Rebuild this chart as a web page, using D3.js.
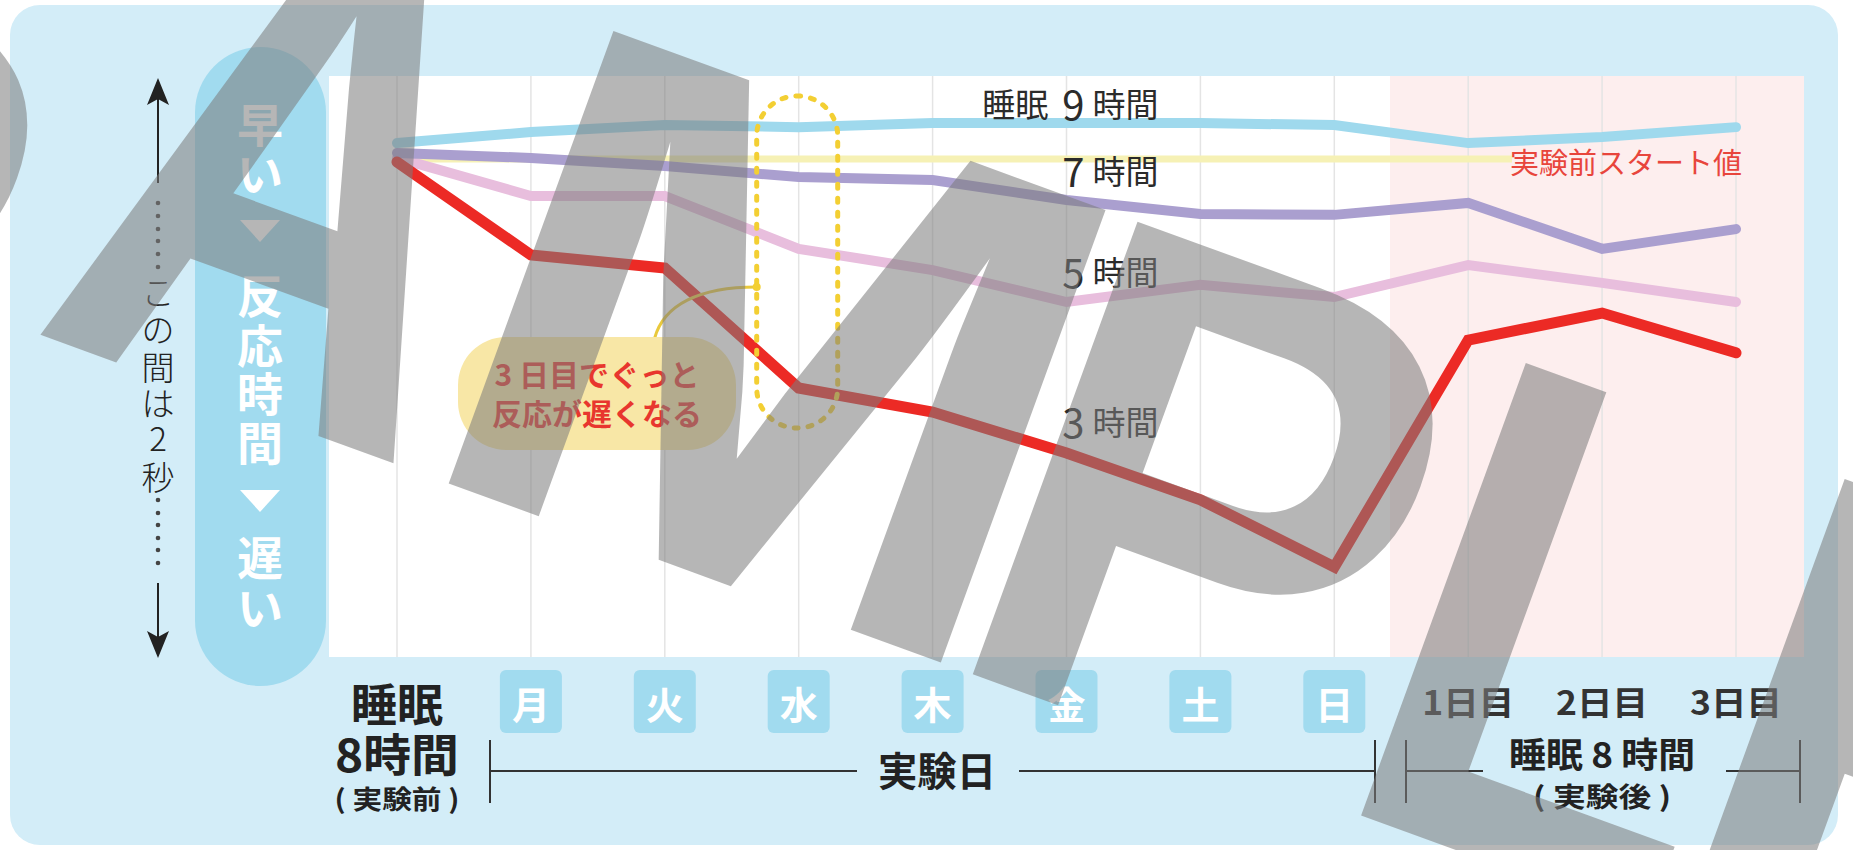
<!DOCTYPE html>
<html lang="ja">
<head>
<meta charset="utf-8">
<title>睡眠時間と反応時間</title>
<script src="https://cdn.jsdelivr.net/npm/d3@7"></script>
<style>
  html, body { margin: 0; padding: 0; background: #ffffff; }
  svg { display: block; }
  text { font-family: "Noto Sans CJK JP", "Noto Sans", sans-serif; }
</style>
</head>
<body>
<svg id="chart" width="1853" height="850"></svg>
<script>
// ---- data -------------------------------------------------------------
// reaction time, ms below the top of the scale (larger = slower)
const categories = ["実験前", "月", "火", "水", "木", "金", "土", "日", "1日目", "2日目", "3日目"];
const dayLabels = ["月", "火", "水", "木", "金", "土", "日"];
const afterLabels = ["1日目", "2日目", "3日目"];
const startValue = 286;
const sleep9 = [231, 193, 169, 176, 162, 162, 162, 169, 231, 210, 176];
const sleep7 = [265, 282, 310, 348, 358, 427, 475, 478, 437, 595, 527];
const sleep5 = [282, 413, 413, 595, 668, 778, 719, 761, 651, 712, 778];
const sleep3 = [296, 616, 661, 1074, 1157, 1298, 1459, 1690, 909, 816, 953];

// ---- layout -----------------------------------------------------------
const svg = d3.select("#chart");
const plot = { left: 329, right: 1804, top: 76, bottom: 657, afterStart: 1390 };

const x = d3.scalePoint().domain(categories).range([397, 1736]);
const y = d3.scaleLinear().domain([0, 2000]).range([plot.top, plot.bottom]);

const C = {
  panel: "#d3edf8",
  chip: "#a1dbef",
  cyan: "#9fd9ed",
  purple: "#aa9fcf",
  pink: "#e8bedd",
  red: "#ec2a25",
  base: "#f6f1b5",
  ink: "#2b2b2b"
};

// outer rounded panel
svg.append("rect")
  .attr("x", 10).attr("y", 5).attr("width", 1828).attr("height", 840)
  .attr("rx", 30).attr("fill", C.panel);

// plot area: experiment days (white) and recovery days (pink)
svg.append("rect")
  .attr("x", plot.left).attr("y", plot.top)
  .attr("width", plot.afterStart - plot.left).attr("height", plot.bottom - plot.top)
  .attr("fill", "#ffffff");
svg.append("rect")
  .attr("x", plot.afterStart).attr("y", plot.top)
  .attr("width", plot.right - plot.afterStart).attr("height", plot.bottom - plot.top)
  .attr("fill", "#fdeeee");

// vertical grid lines
svg.append("g").selectAll("line").data(categories).join("line")
  .attr("x1", d => x(d)).attr("x2", d => x(d))
  .attr("y1", plot.top).attr("y2", plot.bottom)
  .attr("stroke", "#e4e4e4").attr("stroke-width", 1.5);

// starting value reference line
const baseLabelRight = x("3日目") + 6;
svg.append("line")
  .attr("x1", x(categories[0])).attr("x2", 1512)
  .attr("y1", y(startValue)).attr("y2", y(startValue))
  .attr("stroke", C.base).attr("stroke-width", 7);

// series lines
const line = d3.line().x((d, i) => x(categories[i])).y(d => y(d));
const series = [
  { values: sleep5, color: C.pink, width: 10 },
  { values: sleep7, color: C.purple, width: 10 },
  { values: sleep9, color: C.cyan, width: 10 },
  { values: sleep3, color: C.red, width: 11 }
];
svg.append("g").selectAll("path").data(series).join("path")
  .attr("d", d => line(d.values))
  .attr("fill", "none")
  .attr("stroke", d => d.color)
  .attr("stroke-width", d => d.width)
  .attr("stroke-linecap", "round")
  .attr("stroke-linejoin", "miter");

// start value label
svg.append("text")
  .attr("x", baseLabelRight).attr("y", y(startValue) + 2)
  .attr("text-anchor", "end").attr("dominant-baseline", "central")
  .attr("font-size", 29).attr("fill", "#e8453c")
  .text("実験前スタート値");

// series labels
const labelX = x("金") + 92;
function seriesLabel(prefix, digit, yPos) {
  const t = svg.append("text")
    .attr("x", labelX).attr("y", yPos)
    .attr("text-anchor", "end").attr("dominant-baseline", "central")
    .attr("fill", C.ink).attr("font-size", 33);
  if (prefix) t.append("tspan").text(prefix);
  t.append("tspan").attr("dx", prefix ? 14 : 0).attr("font-size", 40).text(digit);
  t.append("tspan").attr("dx", 8).text("時間");
}
seriesLabel("睡眠", "9", 103);
seriesLabel("", "7", 170);
seriesLabel("", "5", 271);
seriesLabel("", "3", 421);

// highlight around Wednesday
const hx = x("水");
svg.append("rect")
  .attr("x", hx - 42).attr("y", 96).attr("width", 81).attr("height", 332)
  .attr("rx", 40)
  .attr("fill", "none").attr("stroke", "#f3cf33").attr("stroke-width", 5)
  .attr("stroke-dasharray", "4 10").attr("stroke-linecap", "round");
svg.append("path")
  .attr("d", `M${hx - 42},287 C${hx - 100},287 ${hx - 135},305 ${hx - 144},338`)
  .attr("fill", "none").attr("stroke", "#e9c93c").attr("stroke-width", 3);
svg.append("circle").attr("cx", hx - 42).attr("cy", 287).attr("r", 4).attr("fill", "#f3cf33");

// callout
svg.append("rect")
  .attr("x", 458).attr("y", 337).attr("width", 278).attr("height", 113)
  .attr("rx", 48).attr("fill", "#f8e7a6");
svg.append("text")
  .attr("x", 597).attr("y", 373).attr("text-anchor", "middle").attr("dominant-baseline", "central")
  .attr("font-size", 30).attr("font-weight", 700).attr("fill", "#e8362e")
  .text("3 日目でぐっと");
svg.append("text")
  .attr("x", 597).attr("y", 412).attr("text-anchor", "middle").attr("dominant-baseline", "central")
  .attr("font-size", 30).attr("font-weight", 700).attr("fill", "#e8362e")
  .text("反応が遅くなる");

// ---- y-direction guide -----------------------------------------------
svg.append("rect")
  .attr("x", 195).attr("y", 47).attr("width", 131).attr("height", 639)
  .attr("rx", 65.5).attr("fill", C.chip);

const pillX = 260;
const pillChars = [
  ["早", 122], ["い", 171], ["▼", 231], ["反", 293], ["応", 343],
  ["時", 391], ["間", 440], ["▼", 501], ["遅", 555], ["い", 605]
];
pillChars.forEach(([ch, cy]) => {
  if (ch === "▼") {
    svg.append("path")
      .attr("d", `M${pillX - 20},${cy - 11} L${pillX + 20},${cy - 11} L${pillX},${cy + 11} Z`)
      .attr("fill", "#ffffff");
  } else {
    svg.append("text")
      .attr("x", pillX).attr("y", cy)
      .attr("text-anchor", "middle").attr("dominant-baseline", "central")
      .attr("font-size", 46).attr("font-weight", 700).attr("fill", "#ffffff")
      .text(ch);
  }
});

// "この間は2秒" scale note with arrows
const ax = 158;
svg.append("line").attr("x1", ax).attr("x2", ax).attr("y1", 98).attr("y2", 183)
  .attr("stroke", "#222").attr("stroke-width", 2);
svg.append("path").attr("d", `M${ax},78 L${ax + 11},105 L${ax},99 L${ax - 11},105 Z`).attr("fill", "#222");
svg.append("line").attr("x1", ax).attr("x2", ax).attr("y1", 583).attr("y2", 640)
  .attr("stroke", "#222").attr("stroke-width", 2);
svg.append("path").attr("d", `M${ax},658 L${ax + 11},631 L${ax},637 L${ax - 11},631 Z`).attr("fill", "#222");
const dots = [203, 216, 229, 241, 254, 267, 500, 513, 525, 538, 550, 563];
svg.append("g").selectAll("circle").data(dots).join("circle")
  .attr("cx", ax).attr("cy", d => d).attr("r", 2.3).attr("fill", "#444");
const noteChars = [["こ", 291], ["の", 328], ["間", 366], ["は", 402], ["2", 437], ["秒", 476]];
noteChars.forEach(([ch, cy]) => {
  svg.append("text")
    .attr("x", ax).attr("y", cy)
    .attr("text-anchor", "middle").attr("dominant-baseline", "central")
    .attr("font-size", 33).attr("font-weight", 300).attr("fill", "#222")
    .text(ch);
});

// ---- x-direction labels ----------------------------------------------
const chipW = 62, chipH = 63, chipTop = 670;
const chips = svg.append("g").selectAll("g").data(dayLabels).join("g")
  .attr("transform", d => `translate(${x(d)},${chipTop})`);
chips.append("rect")
  .attr("x", -chipW / 2).attr("y", 0).attr("width", chipW).attr("height", chipH)
  .attr("rx", 6).attr("fill", C.chip);
chips.append("text")
  .attr("x", 0).attr("y", chipH / 2 + 1)
  .attr("text-anchor", "middle").attr("dominant-baseline", "central")
  .attr("font-size", 38).attr("font-weight", 700).attr("fill", "#ffffff")
  .text(d => d);

function label(txt, cx, cy, size, width, color) {
  const t = svg.append("text")
    .attr("x", cx - width / 2).attr("y", cy)
    .attr("dominant-baseline", "central")
    .attr("font-size", size).attr("font-weight", 700).attr("fill", color || "#222")
    .attr("textLength", width).attr("lengthAdjust", "spacingAndGlyphs")
    .text(txt);
  return t;
}

afterLabels.forEach(d => label(d, x(d), 701, 33, 92, "#333"));

// baseline (before experiment) label
const x0 = x(categories[0]);
label("睡眠", x0, 702, 45, 92);
label("8時間", x0, 752, 45, 124);
label("( 実験前 )", x0, 797, 26, 125);

// brackets
const bracketY = 771;
function bracket(x1, x2, gapL, gapR) {
  const g = svg.append("g").attr("stroke", "#333").attr("stroke-width", 2);
  g.append("line").attr("x1", x1).attr("x2", x1).attr("y1", 740).attr("y2", 803);
  g.append("line").attr("x1", x2).attr("x2", x2).attr("y1", 740).attr("y2", 803);
  g.append("line").attr("x1", x1).attr("x2", gapL).attr("y1", bracketY).attr("y2", bracketY);
  g.append("line").attr("x1", gapR).attr("x2", x2).attr("y1", bracketY).attr("y2", bracketY);
}
bracket(490, 1375, 857, 1019);
bracket(1406, 1800, 1483, 1726);

label("実験日", 937, 769, 40, 118);
label("睡眠 8 時間", x("2日目"), 752, 35, 186);
label("( 実験後 )", x("2日目"), 795, 27, 138);

// ---- stamp --------------------------------------------------------------
// letters laid along a baseline tilted 20°, anchored at the foot of the M
const stampAngle = 20 * Math.PI / 180;
const stampFoot = [453, 485];
const stampSize = 700;
const stampLetters = [
  // [glyph, ink start along baseline, horizontal scale, side bearing (em)]
  ["S", -885, 0.9, 0.04],
  ["A", -453, 0.8, 0.0],
  ["M", 0, 1.07, 0.073],
  ["P", 557, 0.9, 0.073],
  ["L", 970, 0.85, 0.073],
  ["E", 1310, 1.0, 0.073]
];
const stamp = svg.append("g")
  .attr("fill", "#7c7c7c").attr("fill-opacity", 0.556)
  .attr("font-family", "'Liberation Sans', Arial, sans-serif")
  .attr("font-weight", 700).attr("font-size", stampSize);
stampLetters.forEach(([ch, s, sx, lsb]) => {
  const s0 = s - lsb * stampSize * sx;
  const ox = stampFoot[0] + s0 * Math.cos(stampAngle);
  const oy = stampFoot[1] + s0 * Math.sin(stampAngle);
  stamp.append("text")
    .attr("transform", `translate(${ox},${oy}) rotate(20) scale(${sx},1)`)
    .style("font-family", "'Liberation Sans', Arial, sans-serif")
    .text(ch);
});
</script>
</body>
</html>
